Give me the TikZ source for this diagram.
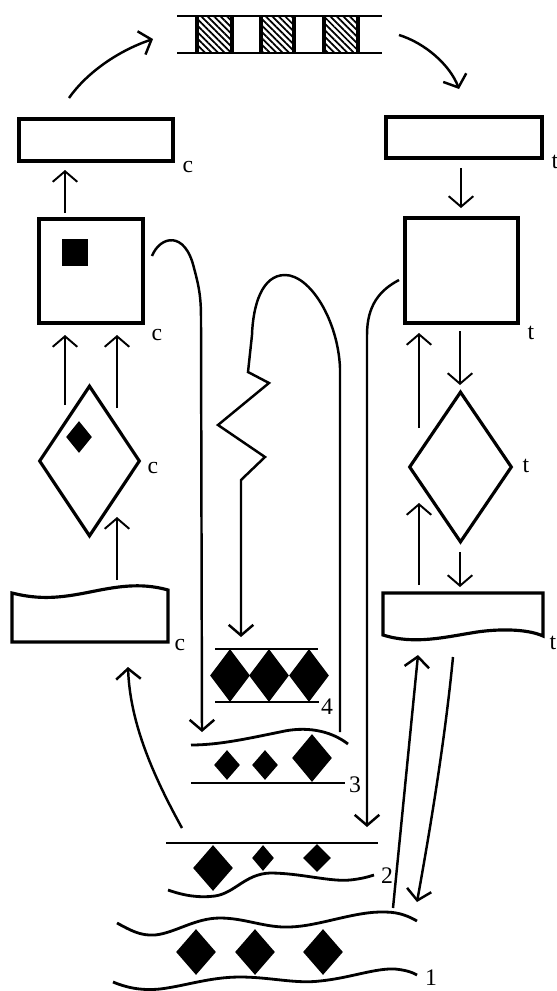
\documentclass[tikz,border=0pt]{standalone}
\usepackage{fontspec}
\setmainfont{Liberation Serif}
\usetikzlibrary{arrows.meta,shapes.geometric,patterns.meta}
\tikzset{
	box/.style={draw, line width=1.8pt, inner sep=0pt},
	gem/.style={diamond, fill=black, inner sep=0pt},
	arr/.style={line width=1.1pt, -{Straight Barb[length=6pt,width=14pt]}},
	stream/.style={line width=1.4pt},
	layer/.style={line width=1.6pt},
	tag/.style={font=\fontsize{13.5}{15}\selectfont, inner sep=0pt}
}
\begin{document}
\begin{tikzpicture}[x=0.02cm,y=-0.02cm]
\useasboundingbox (0,0) rectangle (557,991);

% strip at the top
\draw[layer] (177,16) -- (382,16);
\draw[layer] (177,53) -- (382,53);
\foreach \a/\b in {197/232,261/294,324/358}
{
	\fill[pattern={Lines[angle=-45,distance=2.6pt,line width=1pt]}] (\a,16) rectangle (\b,53);
	\draw[line width=1.8pt] (\a,16) -- (\a,53) (\b,16) -- (\b,53);
}

% left column (c)
\node[box, minimum width=3.08cm, minimum height=0.84cm] (rc) at (96,140) {};
\node[box, minimum width=2.08cm, minimum height=2.08cm] (sc) at (91,271) {};
\node[fill=black, inner sep=0pt, minimum width=0.52cm, minimum height=0.54cm] (dotc) at (75,252.5) {};
\node[box, diamond, minimum width=2.02cm, minimum height=3.02cm] (dc) at (89.5,461) {};
\node[gem, minimum width=0.52cm, minimum height=0.64cm] (gemc) at (79,437) {};
\draw[box] (12,593) .. controls (40,600) and (60,598) .. (90,592)
	.. controls (115,587) and (140,582) .. (168,590) -- (168,642) -- (12,642) -- cycle;
\node[tag] (lrc) at (188,167) {c};
\node[tag] (lsc) at (157,335) {c};
\node[tag] (ldc) at (153,468) {c};
\node[tag] (lwc) at (180,645) {c};

% right column (t)
\node[box, minimum width=3.12cm, minimum height=0.82cm] (rt) at (464,137.5) {};
\node[box, minimum width=2.26cm, minimum height=2.1cm] (st) at (461.5,270.5) {};
\node[box, diamond, minimum width=2.06cm, minimum height=3.02cm] (dt) at (460.5,467) {};
\draw[box] (383,593) -- (543,593) -- (543,636) .. controls (530,630) and (505,628) .. (477,632)
	.. controls (445,637) and (415,645) .. (383,635) -- cycle;
\node[tag] (lrt) at (555,162) {t};
\node[tag] (lst) at (531,333) {t};
\node[tag] (ldt) at (526,466) {t};
\node[tag] (lwt) at (553,643) {t};

% layers
\draw[layer] (215,649) -- (318,649);
\draw[layer] (215,702) -- (319,702);
\foreach \x in {230,269,309}
{
	\node[gem, minimum width=0.8cm, minimum height=1.06cm] at (\x,675.5) {};
}
\node[tag] (l4) at (327,707) {4};
\draw[layer] (191,745) .. controls (220,745) and (250,738) .. (280,732)
	.. controls (305,726) and (330,730) .. (348,744);
\node[gem, minimum width=0.52cm, minimum height=0.6cm] at (227,765) {};
\node[gem, minimum width=0.52cm, minimum height=0.6cm] at (265,765) {};
\node[gem, minimum width=0.8cm, minimum height=0.96cm] at (312,758) {};
\draw[layer] (191,783) -- (345,783);
\node[tag] (l3) at (355,785) {3};
\draw[layer] (166,843) -- (378,843);
\node[gem, minimum width=0.8cm, minimum height=0.92cm] at (213,868) {};
\node[gem, minimum width=0.44cm, minimum height=0.52cm] at (263,858) {};
\node[gem, minimum width=0.56cm, minimum height=0.56cm] at (317,858) {};
\draw[layer] (168,890) .. controls (185,896) and (200,898) .. (215,896)
	.. controls (235,893) and (245,874) .. (270,873)
	.. controls (300,873) and (330,882) .. (350,880)
	.. controls (360,879) and (368,877) .. (374,875);
\node[tag] (l2) at (387,876) {2};
\draw[layer] (117,923) .. controls (130,930) and (140,936) .. (155,935)
	.. controls (175,933) and (195,918) .. (220,918)
	.. controls (245,918) and (265,928) .. (290,927)
	.. controls (320,926) and (355,911) .. (385,912)
	.. controls (400,912) and (410,917) .. (417,921);
\foreach \x in {196,255,323}
{
	\node[gem, minimum width=0.8cm, minimum height=0.92cm] at (\x,952) {};
}
\draw[layer] (113,982) .. controls (125,987) and (140,991) .. (160,989)
	.. controls (185,986) and (210,977) .. (240,977)
	.. controls (270,977) and (295,984) .. (320,981)
	.. controls (350,978) and (375,968) .. (395,969)
	.. controls (405,970) and (412,972) .. (417,975);
\node[tag] (l1) at (431,978) {1};

% arrow ends
\coordinate (a1) at (69,98);
\coordinate (a2) at (153,39);
\coordinate (a3) at (399,35);
\coordinate (a4) at (459,89);
\coordinate (h1) at (152,256);
\coordinate (h2) at (202,732);
\coordinate (z1) at (340,732);
\coordinate (z2) at (241,637);
\coordinate (r1) at (399,280);
\coordinate (r2) at (367,827);
\coordinate (b1) at (182,828);
\coordinate (b2) at (128,667);
\coordinate (u1) at (393,908);
\coordinate (u2) at (418,655);
\coordinate (d1) at (453,657);
\coordinate (d2) at (417,902);

% connectors
\draw[arr, line width=1.4pt] (a1) .. controls (85,75) and (115,52) .. (a2);
\draw[arr, line width=1.4pt] (a3) .. controls (425,43) and (450,65) .. (a4);
\draw[arr] (65,213) -- (65,170);
\draw[arr] (461,168) -- (461,208);
\draw[arr] (65,405) -- (65,335);
\draw[arr] (117,408) -- (117,335);
\draw[arr] (117,580) -- (117,517);
\draw[arr] (419,428) -- (419,333);
\draw[arr] (460,331) -- (460,385);
\draw[arr] (419,585) -- (419,503);
\draw[arr] (460,552) -- (460,587);
\draw[arr, stream] (h1) .. controls (160,236) and (185,230) .. (194,268)
	.. controls (200,290) and (201,300) .. (201,320) -- (h2);
\draw[arr, stream] (z1) -- (340,368) .. controls (338,320) and (310,275) .. (285,275)
	.. controls (262,275) and (253,305) .. (252,335) -- (248,372) -- (269,383)
	-- (218,425) -- (265,457) -- (241,480) -- (z2);
\draw[arr, stream] (r1) .. controls (380,290) and (367,305) .. (367,335) -- (r2);
\draw[arr, stream] (b1) .. controls (150,770) and (130,720) .. (b2);
\draw[arr, stream] (u1) -- (u2);
\draw[arr, stream] (d1) .. controls (445,740) and (430,830) .. (d2);
\end{tikzpicture}
\end{document}
